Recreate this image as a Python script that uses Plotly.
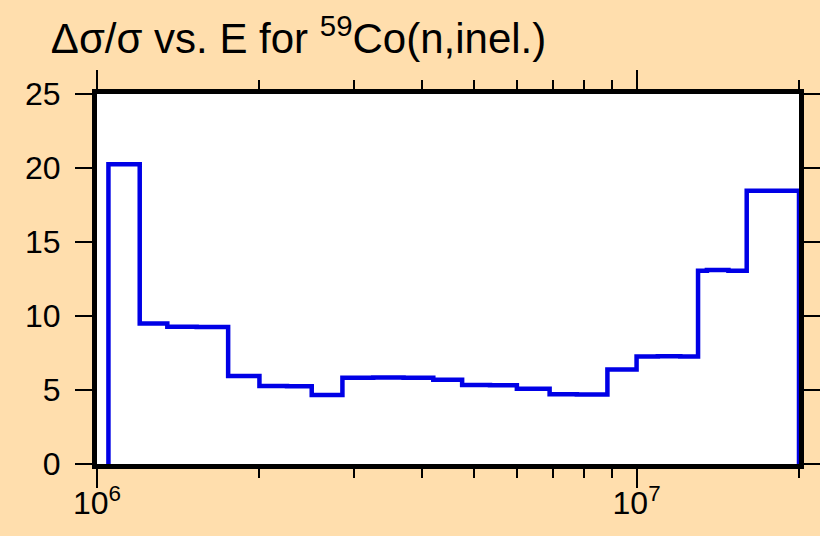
import plotly.graph_objects as go

# Group boundaries (eV) and relative uncertainty (%) per group
energy_edges = [1.05e6, 1.2e6, 1.35e6, 1.53e6, 1.75e6, 2.0e6, 2.25e6, 2.5e6, 2.85e6,
                3.25e6, 3.7e6, 4.2e6, 4.75e6, 5.35e6, 6.0e6, 6.9e6, 7.75e6, 8.83e6,
                1.0e7, 1.095e7, 1.205e7, 1.3e7, 1.35e7, 1.48e7, 1.6e7, 1.69e7, 2.0e7]
rel_uncert = [20.25, 9.50, 9.27, 9.25, 5.94, 5.27, 5.25, 4.67, 5.83,
              5.84, 5.82, 5.69, 5.34, 5.32, 5.09, 4.71, 4.70, 6.38,
              7.27, 7.28, 7.27, 13.06, 13.10, 13.06, 18.47, 18.47]

x_major_vals = [1e6, 1e7]
x_major_text = ["10<sup>6</sup>", "10<sup>7</sup>"]
x_minor_vals = [2e6, 3e6, 4e6, 5e6, 6e6, 7e6, 8e6, 9e6, 2e7]
y_tick_vals = [0, 5, 10, 15, 20, 25]

# Build the step outline: start at zero, histogram steps, drop back to zero
xs = [energy_edges[0]] + energy_edges + [energy_edges[-1]]
ys = [0] + rel_uncert + [rel_uncert[-1], 0]

bg = "#FFDEAD"
font_family = "Liberation Sans, Arial, sans-serif"

fig = go.Figure()
fig.add_trace(go.Scatter(
    x=xs, y=ys, mode="lines", line=dict(color="#0000E6", width=4.5, shape="hv"),
    hoverinfo="skip", showlegend=False, cliponaxis=False,
))

fig.update_layout(
    width=820, height=536,
    paper_bgcolor=bg, plot_bgcolor="white",
    margin=dict(l=97, r=21, t=94, b=72, autoexpand=False),
    font=dict(family=font_family, size=32, color="black"),
    title=dict(
        text="Δσ/σ vs. E for <sup>59</sup>Co(n,inel.)",
        font=dict(family=font_family, size=42, color="black"),
        xref="container", x=0.062, xanchor="left",
        yref="container", y=0.928, yanchor="middle",
    ),
    showlegend=False,
)

fig.update_xaxes(
    type="log", range=[6, 7.30103], automargin=False,
    showgrid=False, zeroline=False,
    showline=True, linecolor="black", linewidth=5, mirror="ticks",
    ticks="outside", ticklen=19, tickwidth=2, tickcolor="black",
    tickvals=x_major_vals, ticktext=x_major_text, ticklabelstandoff=-12,
    minor=dict(tickvals=x_minor_vals, ticks="outside", ticklen=9,
               tickwidth=2, tickcolor="black", showgrid=False),
)
fig.update_yaxes(
    range=[0, 25], automargin=False,
    showgrid=False, zeroline=False,
    showline=True, linecolor="black", linewidth=5, mirror="ticks",
    ticks="outside", ticklen=17, tickwidth=2, tickcolor="black",
    tickvals=y_tick_vals, ticklabelstandoff=8,
)

fig.write_html("out.html", config={"displayModeBar": False},
               post_script="document.body.style.margin='0';")
